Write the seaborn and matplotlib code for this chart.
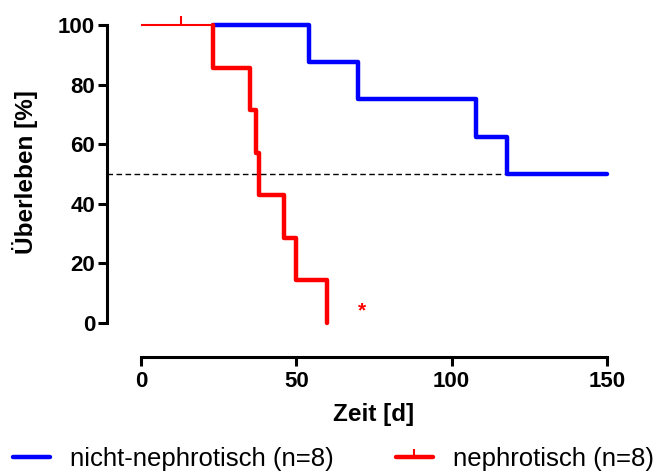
import matplotlib
matplotlib.use("Agg")
import matplotlib.pyplot as plt
import seaborn as sns
import pandas as pd
from matplotlib.path import Path
from matplotlib.lines import Line2D

# ---- data ----
blue_label = "nicht-nephrotisch (n=8)"
red_label = "nephrotisch (n=8)"
blue_time = [0, 54, 70, 108, 118, 150]
blue_surv = [100, 87.5, 75, 62.5, 50, 50]
red_time = [0, 23, 35, 37, 38, 46, 50, 60]
red_surv = [100, 85.7, 71.4, 57.1, 42.9, 28.6, 14.3, 0]
red_censor_time = [13]
red_censor_surv = [100]
median_line = 50
x_ticks = [0, 50, 100, 150]
y_ticks = [0, 20, 40, 60, 80, 100]
star_pos = (71, 4)

sns.set_theme(style="ticks")
plt.rcParams['font.family'] = ['Liberation Sans', 'DejaVu Sans']
plt.rcParams['text.color'] = 'black'
plt.rcParams['axes.labelcolor'] = 'black'

fig = plt.figure(figsize=(6.67, 4.73), dpi=100)
ax = fig.add_axes([0.1604, 0.2452, 0.7586, 0.7209])

BLUE = "#0000ff"
RED = "#ff0000"
first_event = red_time[1]

# blue curve (visible from where the curves separate)
bdf = pd.DataFrame({"t": blue_time, "s": blue_surv})
bdf.loc[0, "t"] = first_event
sns.lineplot(data=bdf, x="t", y="s", drawstyle="steps-post", color=BLUE,
             linewidth=3.2, ax=ax, estimator=None, sort=False, zorder=3)

# red curve: thin initial plateau, thick after first event
ax.plot(red_time[:2], red_surv[:1] * 2, color=RED, linewidth=1.5, zorder=4,
        solid_capstyle="butt")
rt = red_time[1:]
rs_prev = red_surv[:-1]
rs = red_surv[1:]
xs, ys = [], []
for t, sp, s in zip(rt, rs_prev, rs):
    xs += [t, t]
    ys += [sp, s]
step_df = pd.DataFrame({"t": xs, "s": ys})
sns.lineplot(data=step_df, x="t", y="s", color=RED, linewidth=3.2, ax=ax,
             estimator=None, sort=False, zorder=5)

# censor marks
up_tick = Path([[0, 0], [0, 1]], [Path.MOVETO, Path.LINETO])
ax.plot(red_censor_time, red_censor_surv, linestyle="none", marker=up_tick,
        markersize=16, markeredgewidth=1.5, color=RED, zorder=6)

# median dashed line
ax.plot([-11, 150], [median_line, median_line], color="black", linewidth=1,
        linestyle=(0, (4, 2.5)), zorder=2)

ax.text(star_pos[0], star_pos[1], "*", color=RED, fontsize=15,
        fontweight="bold", ha="center", va="center")

ax.set_xlim(-11, 152)
ax.set_ylim(-11.4, 103)
ax.set_xticks(x_ticks)
ax.set_yticks(y_ticks)
ax.spines["top"].set_visible(False)
ax.spines["right"].set_visible(False)
ax.spines["left"].set_bounds(0, 100)
ax.spines["bottom"].set_bounds(0, 150)
for sp in ("left", "bottom"):
    ax.spines[sp].set_linewidth(2.2)
    ax.spines[sp].set_color("black")
    ax.spines[sp].set_capstyle("projecting")
ax.tick_params(axis="both", length=6.5, width=2.2, color="black",
               labelsize=16, labelcolor="black")
ax.tick_params(axis="y", pad=2)
ax.tick_params(axis="x", pad=3.5)
for lbl in ax.get_xticklabels() + ax.get_yticklabels():
    lbl.set_fontweight("bold")
ax.set_xlabel("Zeit [d]", fontsize=17.5, fontweight="bold")
ax.set_ylabel("Überleben [%]", fontsize=17.5, fontweight="bold")
ax.xaxis.set_label_coords(0.526, -0.135)
ax.yaxis.set_label_coords(-0.136, 0.5425)

handles = [
    Line2D([], [], color=BLUE, linewidth=3.2),
    Line2D([], [], color=RED, linewidth=3.2, marker=up_tick, markersize=12,
           markeredgewidth=1.5),
]
fig.legend(handles, [blue_label, red_label], loc="center",
           bbox_to_anchor=(0.5, 1 - 459 / 473), ncol=2, frameon=False,
           fontsize=18.5, handlelength=1.44, columnspacing=2.4,
           handletextpad=0.78, borderpad=0, borderaxespad=0,
           labelcolor="black")

fig.savefig("out.png", dpi=100)
